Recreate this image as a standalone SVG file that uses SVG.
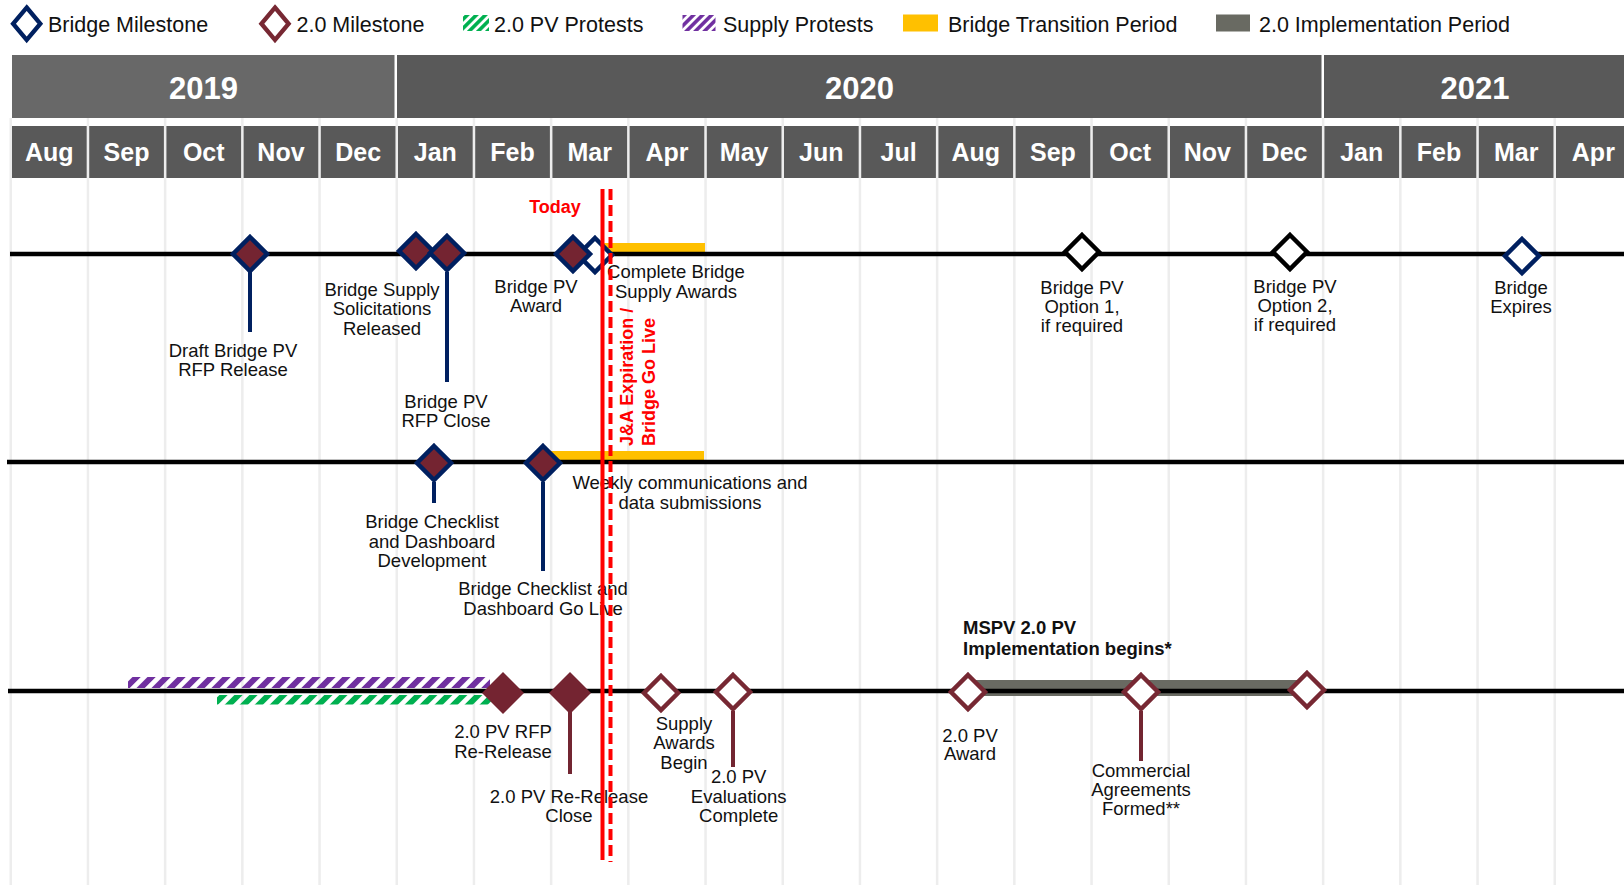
<svg xmlns="http://www.w3.org/2000/svg" width="1624" height="885" viewBox="0 0 1624 885">
<defs>
<style>
text{font-family:"Liberation Sans",Arial,sans-serif}
.lbl{font-size:18.5px;fill:#111;text-anchor:middle}
.leg{font-size:21.5px;fill:#111}
.mon{font-size:25px;font-weight:bold;fill:#fff;text-anchor:middle}
.yr{font-size:31px;font-weight:bold;fill:#fff;text-anchor:middle}
.cell{fill:#595959}
.grid{stroke:#ededed;stroke-width:2.5}
.tl{stroke:#000;stroke-width:4.5}
.bstem{stroke:#002060;stroke-width:4}
.mstem{stroke:#722531;stroke-width:4}
.bf{fill:#742431;stroke:#002060;stroke-width:4.5}
.bw{fill:#fff;stroke:#002060;stroke-width:4.5}
.kw{fill:#fff;stroke:#000;stroke-width:4.5}
.mw{fill:#fff;stroke:#772833;stroke-width:4.5}
.mf{fill:#742431}
.redt{fill:#ff0000;font-weight:bold;font-size:18px}
.bold{font-weight:bold;font-size:18.5px;fill:#111}
</style>
<path id="d" d="M0,-17L17,0L0,17L-17,0Z"/>
<path id="dL" d="M0,-21L21,0L0,21L-21,0Z"/>
<pattern id="hp" patternUnits="userSpaceOnUse" width="10.6" height="10.6" patternTransform="rotate(45)"><rect x="0" y="0" width="5.8" height="10.6" fill="#7030a0"/></pattern>
<pattern id="hg" patternUnits="userSpaceOnUse" width="10.6" height="10.6" patternTransform="rotate(45)"><rect x="0" y="0" width="5.8" height="10.6" fill="#00b050"/></pattern>
<pattern id="lp" patternUnits="userSpaceOnUse" width="6.4" height="6.4" patternTransform="rotate(45)"><rect x="0" y="0" width="3.6" height="6.4" fill="#7030a0"/></pattern>
<pattern id="lg" patternUnits="userSpaceOnUse" width="6.4" height="6.4" patternTransform="rotate(45)"><rect x="0" y="0" width="3.6" height="6.4" fill="#00b050"/></pattern>
</defs>
<rect width="1624" height="885" fill="#fff"/>

<g id="grid">
<line class="grid" x1="10.75" y1="118" x2="10.75" y2="885"/>
<line class="grid" x1="87.95" y1="118" x2="87.95" y2="885"/>
<line class="grid" x1="165.15" y1="118" x2="165.15" y2="885"/>
<line class="grid" x1="242.35" y1="118" x2="242.35" y2="885"/>
<line class="grid" x1="319.55" y1="118" x2="319.55" y2="885"/>
<line class="grid" x1="396.75" y1="118" x2="396.75" y2="885"/>
<line class="grid" x1="473.95" y1="118" x2="473.95" y2="885"/>
<line class="grid" x1="551.15" y1="118" x2="551.15" y2="885"/>
<line class="grid" x1="628.35" y1="118" x2="628.35" y2="885"/>
<line class="grid" x1="705.55" y1="118" x2="705.55" y2="885"/>
<line class="grid" x1="782.75" y1="118" x2="782.75" y2="885"/>
<line class="grid" x1="859.95" y1="118" x2="859.95" y2="885"/>
<line class="grid" x1="937.15" y1="118" x2="937.15" y2="885"/>
<line class="grid" x1="1014.35" y1="118" x2="1014.35" y2="885"/>
<line class="grid" x1="1091.55" y1="118" x2="1091.55" y2="885"/>
<line class="grid" x1="1168.75" y1="118" x2="1168.75" y2="885"/>
<line class="grid" x1="1245.95" y1="118" x2="1245.95" y2="885"/>
<line class="grid" x1="1323.15" y1="118" x2="1323.15" y2="885"/>
<line class="grid" x1="1400.35" y1="118" x2="1400.35" y2="885"/>
<line class="grid" x1="1477.55" y1="118" x2="1477.55" y2="885"/>
<line class="grid" x1="1554.75" y1="118" x2="1554.75" y2="885"/>
</g>

<g id="legend">
<use href="#d" x="26.7" y="23.7" transform="translate(26.7 23.7) scale(0.8 0.95) translate(-26.7 -23.7)" class="bw" style="stroke-width:5"/>
<text class="leg" x="48" y="31.5">Bridge Milestone</text>
<use href="#d" x="275" y="23.7" transform="translate(275 23.7) scale(0.8 0.95) translate(-275 -23.7)" class="mw" style="stroke-width:5"/>
<text class="leg" x="296.5" y="31.5">2.0 Milestone</text>
<rect x="463" y="15" width="26" height="16" fill="url(#lg)"/>
<text class="leg" x="494" y="31.5">2.0 PV Protests</text>
<rect x="682.5" y="15" width="33" height="16" fill="url(#lp)"/>
<text class="leg" x="723" y="31.5">Supply Protests</text>
<rect x="903" y="14.5" width="35" height="17" fill="#ffc000"/>
<text class="leg" x="948" y="31.5">Bridge Transition Period</text>
<rect x="1216" y="14.5" width="34" height="17" fill="#696a62"/>
<text class="leg" x="1259" y="31.5">2.0 Implementation Period</text>
</g>

<g id="header">
<rect x="12" y="55" width="382.5" height="63" fill="#686868"/>
<rect x="397" y="55" width="924.5" height="63" class="cell"/>
<rect x="1324" y="55" width="300" height="63" class="cell"/>
<text class="yr" x="203.5" y="99">2019</text>
<text class="yr" x="859.5" y="99">2020</text>
<text class="yr" x="1475" y="99">2021</text>
<rect class="cell" x="12" y="126" width="74.7" height="52"/>
<rect class="cell" x="89.2" y="126" width="74.7" height="52"/>
<rect class="cell" x="166.4" y="126" width="74.7" height="52"/>
<rect class="cell" x="243.6" y="126" width="74.7" height="52"/>
<rect class="cell" x="320.8" y="126" width="74.7" height="52"/>
<rect class="cell" x="398" y="126" width="74.7" height="52"/>
<rect class="cell" x="475.2" y="126" width="74.7" height="52"/>
<rect class="cell" x="552.4" y="126" width="74.7" height="52"/>
<rect class="cell" x="629.6" y="126" width="74.7" height="52"/>
<rect class="cell" x="706.8" y="126" width="74.7" height="52"/>
<rect class="cell" x="784" y="126" width="74.7" height="52"/>
<rect class="cell" x="861.2" y="126" width="74.7" height="52"/>
<rect class="cell" x="938.4" y="126" width="74.7" height="52"/>
<rect class="cell" x="1015.6" y="126" width="74.7" height="52"/>
<rect class="cell" x="1092.8" y="126" width="74.7" height="52"/>
<rect class="cell" x="1170" y="126" width="74.7" height="52"/>
<rect class="cell" x="1247.2" y="126" width="74.7" height="52"/>
<rect class="cell" x="1324.4" y="126" width="74.7" height="52"/>
<rect class="cell" x="1401.6" y="126" width="74.7" height="52"/>
<rect class="cell" x="1478.8" y="126" width="74.7" height="52"/>
<rect class="cell" x="1556" y="126" width="74.7" height="52"/>
<text class="mon" x="49.35" y="161">Aug</text>
<text class="mon" x="126.55" y="161">Sep</text>
<text class="mon" x="203.75" y="161">Oct</text>
<text class="mon" x="280.95" y="161">Nov</text>
<text class="mon" x="358.15" y="161">Dec</text>
<text class="mon" x="435.35" y="161">Jan</text>
<text class="mon" x="512.55" y="161">Feb</text>
<text class="mon" x="589.75" y="161">Mar</text>
<text class="mon" x="666.95" y="161">Apr</text>
<text class="mon" x="744.15" y="161">May</text>
<text class="mon" x="821.35" y="161">Jun</text>
<text class="mon" x="898.55" y="161">Jul</text>
<text class="mon" x="975.75" y="161">Aug</text>
<text class="mon" x="1052.95" y="161">Sep</text>
<text class="mon" x="1130.15" y="161">Oct</text>
<text class="mon" x="1207.35" y="161">Nov</text>
<text class="mon" x="1284.55" y="161">Dec</text>
<text class="mon" x="1361.75" y="161">Jan</text>
<text class="mon" x="1438.95" y="161">Feb</text>
<text class="mon" x="1516.15" y="161">Mar</text>
<text class="mon" x="1593.35" y="161">Apr</text>
</g>

<g id="periods">
<rect id="bridge-transition-1" x="603" y="243" width="102" height="10" fill="#ffc000"/>
<rect id="bridge-transition-2" x="543" y="451" width="161" height="10" fill="#ffc000"/>
<rect id="supply-protests" x="128" y="677" width="362" height="11" fill="url(#hp)"/>
<rect id="pv-protests" x="217" y="695" width="276" height="9.5" fill="url(#hg)"/>
<rect id="implementation" x="968" y="680" width="332" height="16" fill="#696a62"/>
</g>

<g id="connectors">
<line class="tl" x1="10" y1="254" x2="1624" y2="254"/>
<line class="tl" x1="7" y1="462" x2="1624" y2="462"/>
<line class="tl" x1="8" y1="691" x2="1624" y2="691"/>
<line class="bstem" x1="250" y1="272" x2="250" y2="332"/>
<line class="bstem" x1="447" y1="272" x2="447" y2="382"/>
<line class="bstem" x1="434" y1="482" x2="434" y2="503"/>
<line class="bstem" x1="543" y1="482" x2="543" y2="571"/>
<line class="mstem" x1="570" y1="712" x2="570" y2="774"/>
<line class="mstem" x1="733" y1="711" x2="733" y2="767"/>
<line class="mstem" x1="1141" y1="711" x2="1141" y2="761"/>
</g>

<g id="draft-bridge-pv-rfp-release">
<use href="#d" x="250" y="254" class="bf"/>
<text class="lbl" x="233"><tspan x="233" y="356.5">Draft Bridge PV</tspan><tspan x="233" y="376">RFP Release</tspan></text>
</g>
<g id="bridge-supply-solicitations">
<use href="#d" x="416" y="251" class="bf"/>
<text class="lbl"><tspan x="382" y="296">Bridge Supply</tspan><tspan x="382" y="315.3">Solicitations</tspan><tspan x="382" y="334.5">Released</tspan></text>
</g>
<g id="bridge-pv-rfp-close">
<use href="#d" x="447" y="253" class="bf"/>
<text class="lbl"><tspan x="446" y="407.5">Bridge PV</tspan><tspan x="446" y="427">RFP Close</tspan></text>
</g>
<g id="complete-bridge-supply-awards">
<use href="#d" x="595" y="255" class="bw"/>
<text class="lbl"><tspan x="676" y="277.7">Complete Bridge</tspan><tspan x="676" y="297.7">Supply Awards</tspan></text>
</g>
<g id="bridge-pv-award">
<use href="#d" x="573" y="254" class="bf"/>
<text class="lbl"><tspan x="536" y="292.7">Bridge PV</tspan><tspan x="536" y="311.7">Award</tspan></text>
</g>
<g id="bridge-pv-option-1">
<use href="#d" x="1082" y="252" class="kw"/>
<text class="lbl"><tspan x="1082" y="294.3">Bridge PV</tspan><tspan x="1082" y="313.3">Option 1,</tspan><tspan x="1082" y="332.3">if required</tspan></text>
</g>
<g id="bridge-pv-option-2">
<use href="#d" x="1290" y="252" class="kw"/>
<text class="lbl"><tspan x="1295" y="292.7">Bridge PV</tspan><tspan x="1295" y="311.7">Option 2,</tspan><tspan x="1295" y="330.7">if required</tspan></text>
</g>
<g id="bridge-expires">
<use href="#d" x="1522" y="256" class="bw"/>
<text class="lbl"><tspan x="1521" y="294.3">Bridge</tspan><tspan x="1521" y="313.3">Expires</tspan></text>
</g>

<g id="bridge-checklist-development">
<use href="#d" x="434" y="463" class="bf"/>
<text class="lbl"><tspan x="432" y="527.5">Bridge Checklist</tspan><tspan x="432" y="547.5">and Dashboard</tspan><tspan x="432" y="566.5">Development</tspan></text>
</g>
<g id="bridge-checklist-go-live">
<use href="#d" x="543" y="463" class="bf"/>
<text class="lbl"><tspan x="543" y="594.5">Bridge Checklist and</tspan><tspan x="543" y="614.5">Dashboard Go Live</tspan></text>
</g>
<g id="weekly-communications">
<text class="lbl"><tspan x="690" y="489">Weekly communications and</tspan><tspan x="690" y="509">data submissions</tspan></text>
</g>

<g id="pv-rfp-re-release">
<use href="#dL" x="503" y="693" class="mf"/>
<text class="lbl"><tspan x="503" y="738.3">2.0 PV RFP</tspan><tspan x="503" y="758.3">Re-Release</tspan></text>
</g>
<g id="pv-re-release-close">
<use href="#dL" x="570" y="693" class="mf"/>
<text class="lbl"><tspan x="569" y="803">2.0 PV Re-Release</tspan><tspan x="569" y="822">Close</tspan></text>
</g>
<g id="supply-awards-begin">
<use href="#d" x="661" y="693" class="mw"/>
<text class="lbl"><tspan x="684" y="729.5">Supply</tspan><tspan x="684" y="749">Awards</tspan><tspan x="684" y="768.5">Begin</tspan></text>
</g>
<g id="pv-evaluations-complete">
<use href="#d" x="733" y="692" class="mw"/>
<text class="lbl"><tspan x="738.7" y="783.3">2.0 PV</tspan><tspan x="738.7" y="802.7">Evaluations</tspan><tspan x="738.7" y="822">Complete</tspan></text>
</g>
<g id="pv-award">
<use href="#d" x="968" y="692" class="mw"/>
<text class="lbl"><tspan x="970" y="741.7">2.0 PV</tspan><tspan x="970" y="760">Award</tspan></text>
</g>
<g id="commercial-agreements">
<use href="#d" x="1141" y="692" class="mw"/>
<text class="lbl"><tspan x="1141" y="776.7">Commercial</tspan><tspan x="1141" y="796">Agreements</tspan><tspan x="1141" y="815.3">Formed**</tspan></text>
</g>
<g id="implementation-end">
<use href="#d" x="1307" y="690" class="mw"/>
</g>
<g id="mspv-implementation">
<text class="bold"><tspan x="963" y="634.3">MSPV 2.0 PV</tspan><tspan x="963" y="655">Implementation begins*</tspan></text>
</g>

<g id="today">
<line x1="602.5" y1="189" x2="602.5" y2="860" stroke="#ff0000" stroke-width="4"/>
<line x1="610.5" y1="189" x2="610.5" y2="862" stroke="#ff0000" stroke-width="4" stroke-dasharray="11 5"/>
<text class="redt" x="555" y="213" text-anchor="middle">Today</text>
<text class="redt" transform="translate(633 446) rotate(-90)" x="0" y="0">J&amp;A Expiration /</text>
<text class="redt" transform="translate(655 446) rotate(-90)" x="0" y="0">Bridge Go Live</text>
</g>
</svg>
